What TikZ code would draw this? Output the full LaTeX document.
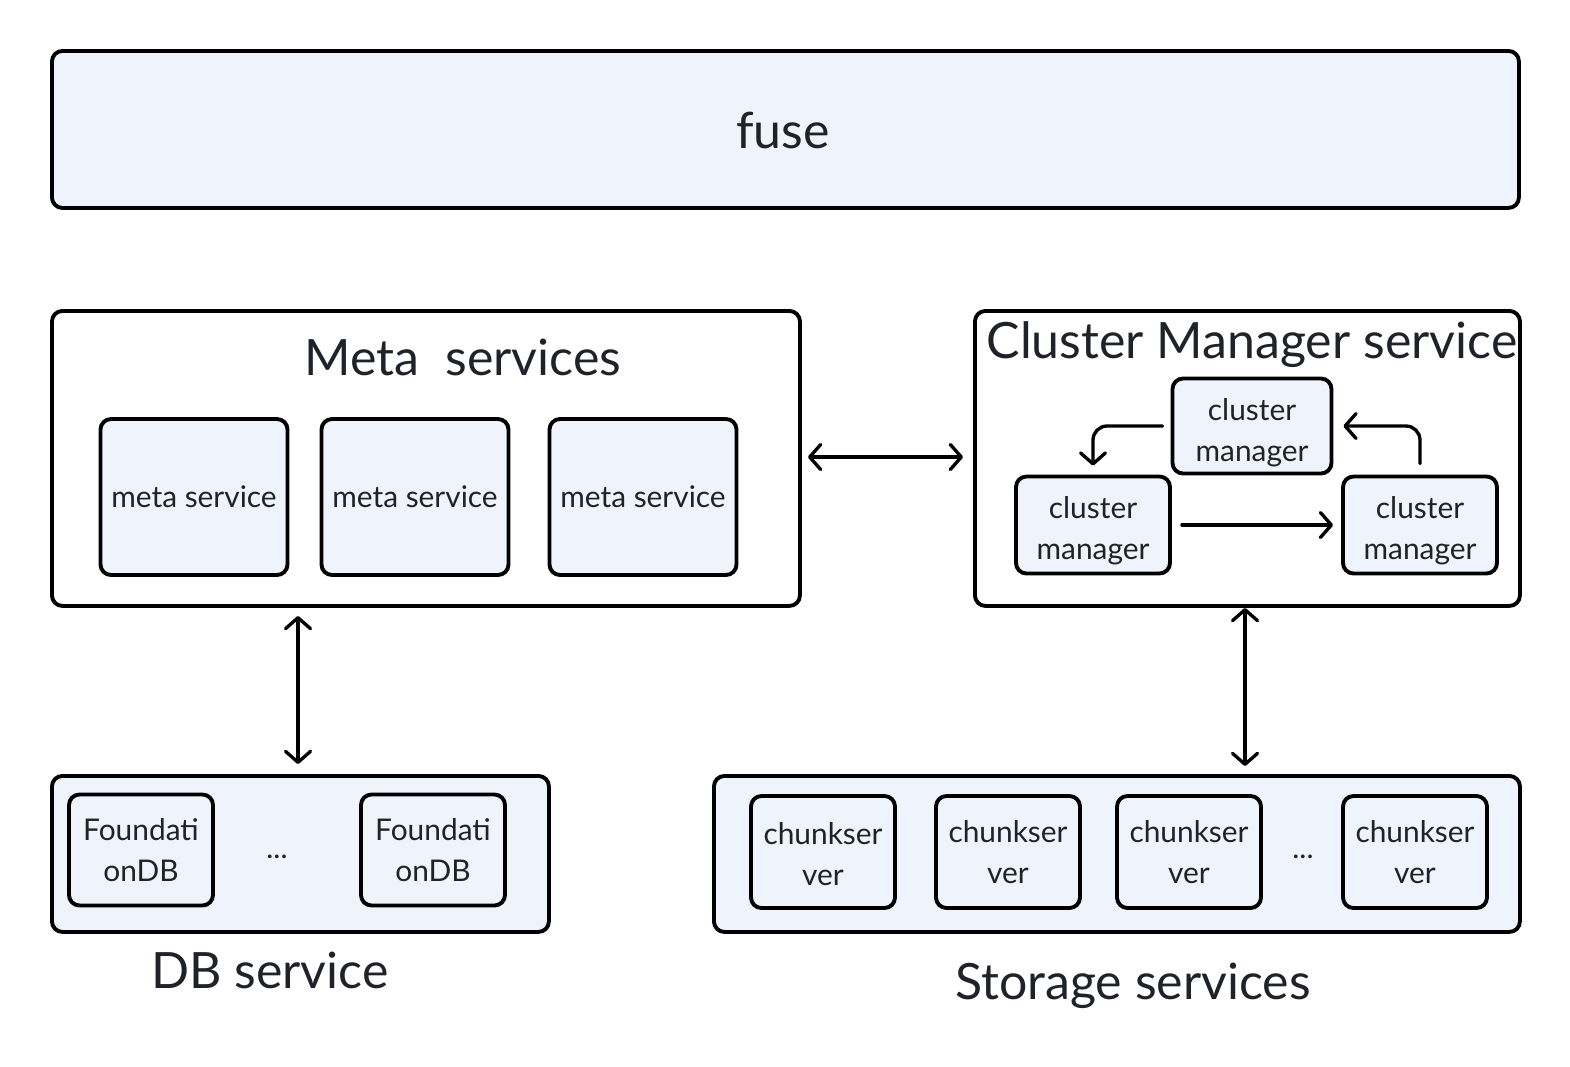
\documentclass[tikz,border=0pt]{standalone}
\usepackage{fontspec}
\setmainfont{Lato}
\usepackage{tikz}
\usetikzlibrary{arrows.meta,positioning}
\definecolor{paleblue}{HTML}{EEF3FC}
\definecolor{ink}{HTML}{1F2329}
\newcommand{\padtop}[1]{\rule{0pt}{#1}}

\begin{document}
\begin{tikzpicture}[x=0.02cm, y=-0.02cm,
  every node/.style={text=ink, inner sep=0pt},
  outer/.style={draw, line width=2.2pt, rounded corners=6pt, anchor=north west},
  unit/.style={draw, line width=2.2pt, rounded corners=6pt, fill=paleblue, align=center, font=\fontsize{17}{23}\selectfont},
  title/.style={font=\fontsize{28.5}{32}\selectfont},
  arr/.style={{Straight Barb[length=2.2mm,width=5mm,round]}-{Straight Barb[length=2.2mm,width=5mm,round]}, line width=1.9pt, line cap=round},
  sarr/.style={-{Straight Barb[length=2.2mm,width=5mm,round]}, line width=1.9pt, line cap=round, rounded corners=8pt}]
\useasboundingbox (0,0) rectangle (1570,1066);
% top layer
\node[outer, fill=paleblue, minimum width=1467*0.02cm, minimum height=157*0.02cm] (fuse) at (50,49) {};
\node[title] at (783,130) {fuse};
% meta services
\node[outer, minimum width=748*0.02cm, minimum height=295*0.02cm] (meta) at (50,309) {};
\node[title] at (463,357) {Meta\ \ services};
\node[unit, minimum width=187*0.02cm, minimum height=156*0.02cm] (ms1) at (194,497) {meta service};
\node[unit, minimum width=187*0.02cm, minimum height=156*0.02cm] (ms2) at (415,497) {meta service};
\node[unit, minimum width=187*0.02cm, minimum height=156*0.02cm] (ms3) at (643,497) {meta service};
% cluster manager service
\node[outer, minimum width=545*0.02cm, minimum height=295*0.02cm] (cms) at (973,309) {};
\node[title] at (1252,345) {Cluster Manager service};
\node[unit, minimum width=159*0.02cm, minimum height=95*0.02cm] (cmtop) at (1252,426) {\padtop{20pt}cluster\\manager};
\node[unit, minimum width=154*0.02cm, minimum height=97*0.02cm] (cmleft) at (1093,525) {\padtop{19pt}cluster\\manager};
\node[unit, minimum width=154*0.02cm, minimum height=97*0.02cm] (cmright) at (1420,525) {\padtop{19pt}cluster\\manager};
\draw[sarr] ([xshift=-8*0.02cm]cmtop.west) -| ([yshift=9*0.02cm]cmleft.north);
\draw[sarr] ([yshift=11*0.02cm]cmright.north) |- ([xshift=10*0.02cm]cmtop.east);
\draw[sarr] ([xshift=10*0.02cm]cmleft.east) -- ([xshift=-8*0.02cm]cmright.west);
% storage side
\node[outer, fill=paleblue, minimum width=497*0.02cm, minimum height=156*0.02cm] (db) at (50,774) {};
\node[unit, minimum width=144*0.02cm, minimum height=111*0.02cm] (fdb1) at (141,850) {Foundati\\onDB};
\node[unit, minimum width=144*0.02cm, minimum height=111*0.02cm] (fdb2) at (433,850) {Foundati\\onDB};
\node[font=\fontsize{17}{20}\selectfont] (dbdots) at (277,857) {...};
\node[title] (dblabel) at (270,970) {DB service};
\node[outer, fill=paleblue, minimum width=806*0.02cm, minimum height=156*0.02cm] (store) at (712,774) {};
\node[unit, minimum width=144*0.02cm, minimum height=112*0.02cm] (cs1) at (823,852) {\padtop{15pt}chunkser\\ver};
\node[unit, minimum width=144*0.02cm, minimum height=112*0.02cm] (cs2) at (1008,852) {chunkser\\ver};
\node[unit, minimum width=144*0.02cm, minimum height=112*0.02cm] (cs3) at (1189,852) {chunkser\\ver};
\node[font=\fontsize{17}{20}\selectfont] (csdots) at (1303,857) {...};
\node[unit, minimum width=144*0.02cm, minimum height=112*0.02cm] (cs4) at (1415,852) {chunkser\\ver};
\node[title] (stlabel) at (1133,986) {Storage services};
% links between services
\coordinate (metaR) at (808,457);
\coordinate (cmsL) at (963,457);
\coordinate (metaB) at (298,616);
\coordinate (dbT) at (298,764);
\coordinate (cmsB) at (1245,608);
\coordinate (storeT) at (1245,766);
\draw[arr] (metaR) -- (cmsL);
\draw[arr] (metaB) -- (dbT);
\draw[arr] (cmsB) -- (storeT);
\end{tikzpicture}
\end{document}
